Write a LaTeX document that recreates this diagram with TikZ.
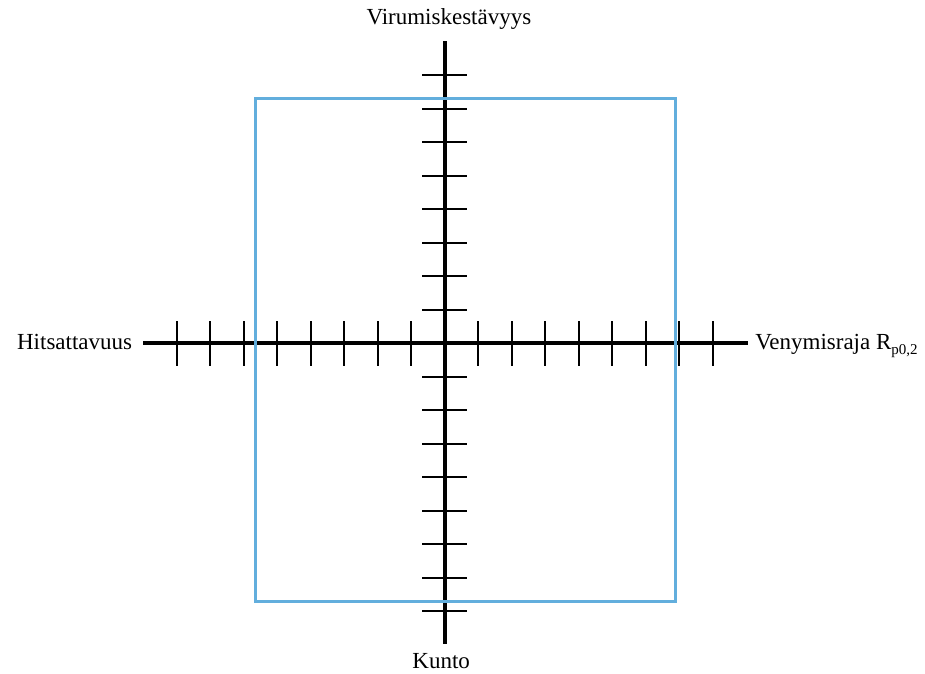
\documentclass[tikz,border=0pt]{standalone}
\usepackage{fontspec}
\setmainfont{Liberation Serif}
\usetikzlibrary{positioning}
\definecolor{frameBlue}{HTML}{62AEDD}
\definecolor{ink}{HTML}{000000}
\newcommand{\AxisFont}{\fontsize{23}{27}\selectfont}
\newcommand{\LowSub}[1]{\raisebox{-0.55ex}{\fontsize{15}{15}\selectfont #1}}
\tikzset{
  axis line/.style={line width=4pt, ink},
  tick line/.style={line width=2pt, ink},
  frame line/.style={line width=3pt, frameBlue, line join=miter},
  axis label/.style={font=\AxisFont, text=ink, inner sep=0pt},
}
\begin{document}
\begin{tikzpicture}[x=33.5pt,y=33.5pt]
  \useasboundingbox (-13.27,-9.84) rectangle (14.34,10.25);

  % Axis ends
  \coordinate (xW) at (-9,0);
  \coordinate (xE) at (9.05,0);
  \coordinate (yS) at (0,-8.96);
  \coordinate (yN) at (0,9.03);

  % Axes
  \draw[axis line] (xW) -- (xE);
  \draw[axis line] (yS) -- (yN);

  % Ticks
  \foreach \i in {1,...,8} {
    \draw[tick line] (\i,-0.67) -- (\i,0.67);
    \draw[tick line] (-\i,-0.67) -- (-\i,0.67);
    \draw[tick line] (-0.67,\i) -- (0.67,\i);
    \draw[tick line] (-0.67,-\i) -- (0.67,-\i);
  }

  % Blue frame
  \coordinate (fNW) at (-5.64,7.31);
  \coordinate (fSE) at (6.90,-7.69);
  \draw[frame line] (fNW) rectangle (fSE);

  % Labels
  \node[axis label, anchor=base] (creep) at (0.13,9.52) {Virumiskestävyys};
  \node[axis label, anchor=base] (cond) at (-0.1,-9.69) {Kunto};
  \node[axis label, anchor=base east] (weld) at (-9.32,-0.19) {Hitsattavuus};
  \node[axis label, anchor=base west] (yield) at (9.27,-0.17) {Venymisraja R\LowSub{p0,2}};
\end{tikzpicture}
\end{document}
